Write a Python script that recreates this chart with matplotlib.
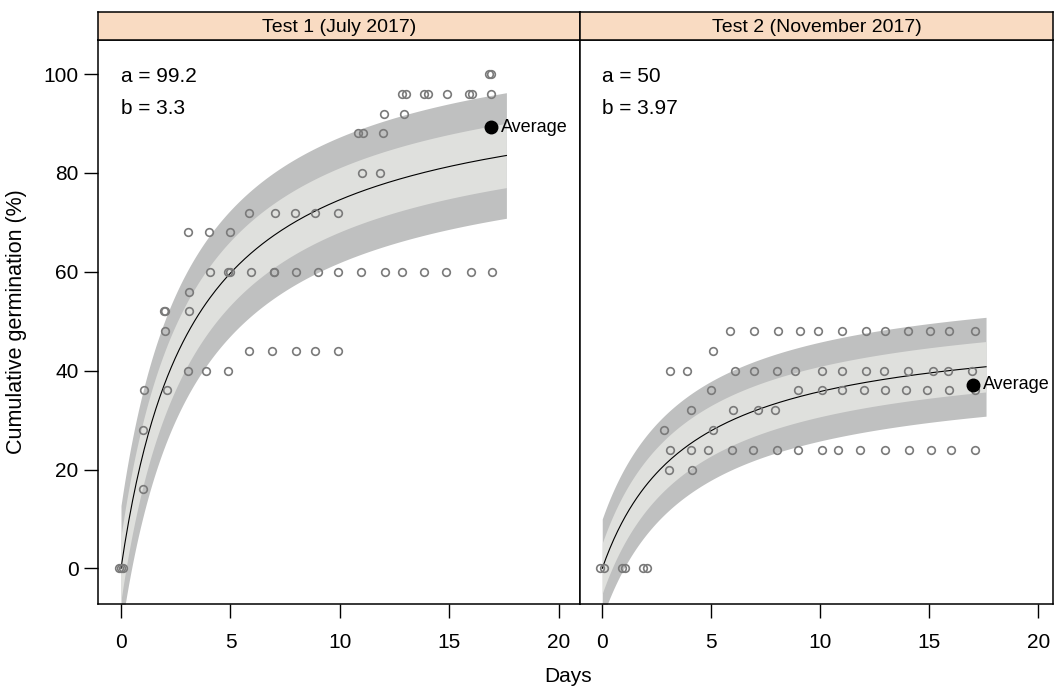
import numpy as np
import matplotlib
matplotlib.use("Agg")
import matplotlib.pyplot as plt

plt.rcParams['font.family'] = ['Liberation Sans', 'DejaVu Sans']

# observed points (day, cumulative germination %)
t1_day = [-0.1, 0.0, 0.1,
          1.0, 1.0, 1.05, 2.1,
          3.05, 3.87, 4.9,
          5.84, 6.9, 8.0, 8.84, 9.93,
          2.0, 1.95, 2.0, 3.1, 3.1,
          4.07, 4.9, 5.0, 5.93, 6.97, 7.0, 7.98, 8.99, 9.9, 10.97, 12.07, 12.85, 13.84, 14.85, 15.96, 16.94,
          3.08, 4.02, 4.96,
          5.84, 7.02, 7.93, 8.84, 9.9,
          11.0, 11.83,
          10.8, 11.04, 11.95,
          12.0, 12.93,
          12.85, 13.0, 13.84, 14.0, 14.9, 15.9, 16.04, 16.9,
          16.8, 16.9]
t1_germ = [0, 0, 0,
           16, 28, 36, 36,
           40, 40, 40,
           44, 44, 44, 44, 44,
           48, 52, 52, 52, 56,
           60, 60, 60, 60, 60, 60, 60, 60, 60, 60, 60, 60, 60, 60, 60, 60,
           68, 68, 68,
           72, 72, 72, 72, 72,
           80, 80,
           88, 88, 88,
           92, 92,
           96, 96, 96, 96, 96, 96, 96, 96,
           100, 100]

t2_day = [-0.1, 0.1, 0.9, 1.04, 1.88, 2.03,
          3.06, 4.1,
          3.1, 4.05, 4.86, 5.93, 6.9, 8.0, 8.96, 10.1, 10.8, 11.8, 12.96, 14.08, 15.08, 16.0, 17.1,
          2.85, 5.06,
          4.05, 6.0, 7.13, 7.9,
          4.99, 8.96, 10.06, 10.98, 12.02, 12.97, 13.93, 14.88, 15.92, 17.1,
          3.1, 3.87, 6.09, 6.96, 8.0, 8.84, 10.06, 11.0, 12.1, 12.9, 14.04, 15.15, 15.87, 16.94,
          5.1,
          5.86, 6.96, 8.05, 9.07, 9.91, 11.0, 12.09, 12.96, 14.04, 15.03, 15.92, 17.1]
t2_germ = [0, 0, 0, 0, 0, 0,
           20, 20,
           24, 24, 24, 24, 24, 24, 24, 24, 24, 24, 24, 24, 24, 24, 24,
           28, 28,
           32, 32, 32, 32,
           36, 36, 36, 36, 36, 36, 36, 36, 36, 36,
           40, 40, 40, 40, 40, 40, 40, 40, 40, 40, 40, 40, 40, 40,
           44,
           48, 48, 48, 48, 48, 48, 48, 48, 48, 48, 48, 48]

# fitted hyperbola y = a*x/(b+x), and band half-widths
titles = ["Test 1 (July 2017)", "Test 2 (November 2017)"]
param_a = [99.2, 50]
param_b = [3.3, 3.97]
band_outer = [12.7, 10.0]
band_inner = [6.5, 5.1]
avg_day = [16.9, 17.0]
avg_germ = [89.2, 37.2]
fit_end = 17.6

W, H = 1055, 689
fig = plt.figure(figsize=(W / 100, H / 100), dpi=100)

bottom = 1 - 603.5 / H
top = 1 - 40 / H
strip_h = 28 / H
panels = [(98, 580, (-1.05, 20.96)), (580, 1053, (-1.02, 20.67))]

days = [t1_day, t2_day]
germ = [t1_germ, t2_germ]

for i, (x0, x1, xlim) in enumerate(panels):
    ax = fig.add_axes([x0 / W, bottom, (x1 - x0) / W, top - bottom])
    x = np.linspace(0, fit_end, 200)
    y = param_a[i] * x / (param_b[i] + x)
    ax.fill_between(x, y - band_outer[i], y + band_outer[i], color='#bfc0c0', lw=0)
    ax.fill_between(x, y - band_inner[i], y + band_inner[i], color='#dfe0dd', lw=0)
    ax.plot(x, y, color='black', lw=0.8)
    ax.plot(days[i], germ[i], 'o', ms=5.5, mfc='none', mec='#7a7a7a', mew=1.2)
    ax.plot(avg_day[i], avg_germ[i], 'o', ms=9, color='black')
    ax.text(avg_day[i] + 0.45, avg_germ[i], "Average", fontsize=13, va='center', ha='left')
    ax.text(0, 99.6, "a = %g" % param_a[i], fontsize=15, va='center', ha='left')
    ax.text(0, 93.1, "b = %g" % param_b[i], fontsize=15, va='center', ha='left')

    ax.set_xlim(*xlim)
    ax.set_ylim(-7.1, 106.9)
    ax.set_xticks([0, 5, 10, 15, 20])
    ax.tick_params(axis='x', direction='out', length=10, width=1, labelsize=15, pad=11)
    if i == 0:
        ax.set_yticks([0, 20, 40, 60, 80, 100])
        ax.tick_params(axis='y', direction='out', length=10, width=1, labelsize=15, pad=4)
        ax.set_ylabel("Cumulative germination (%)", fontsize=15.5, labelpad=12)
    else:
        ax.set_yticks([])
    for s in ax.spines.values():
        s.set_linewidth(1.1)

    sax = fig.add_axes([x0 / W, top, (x1 - x0) / W, strip_h])
    sax.set_facecolor('#f9dbc2')
    sax.set_xticks([])
    sax.set_yticks([])
    for s in sax.spines.values():
        s.set_linewidth(1.1)
    sax.text(0.5, 0.45, titles[i], transform=sax.transAxes, ha='center', va='center', fontsize=14)

fig.text(568 / W, 1 - 677 / H, "Days", ha='center', va='center', fontsize=15)

fig.savefig("out.png", dpi=100)
